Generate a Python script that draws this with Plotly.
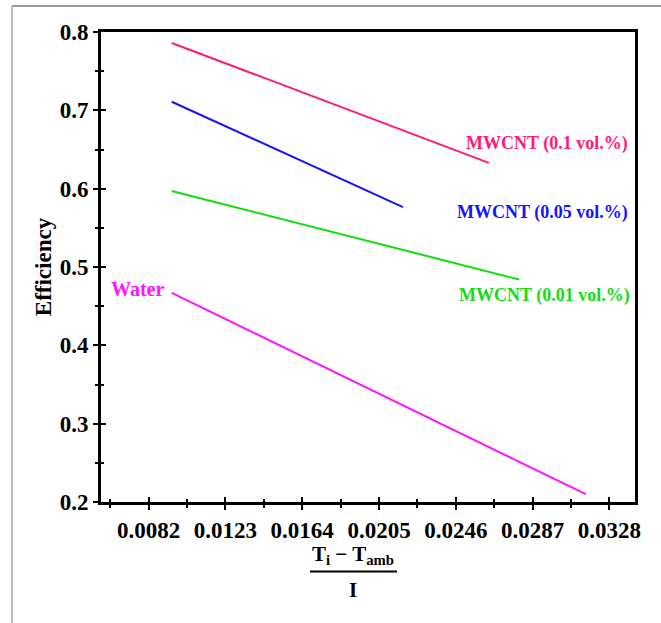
import plotly.graph_objects as go

# Efficiency vs reduced temperature parameter (Ti - Tamb) / I
x_ticks = [0.0082, 0.0123, 0.0164, 0.0205, 0.0246, 0.0287, 0.0328]
x_minor = [0.00615, 0.01025, 0.01435, 0.01845, 0.02255, 0.02665, 0.03075]
y_ticks = [0.2, 0.3, 0.4, 0.5, 0.6, 0.7, 0.8]
y_minor = [0.25, 0.35, 0.45, 0.55, 0.65, 0.75]

x_cnt_01 = [0.00943, 0.02637]
eff_cnt_01 = [0.786, 0.633]
x_cnt_005 = [0.00943, 0.02178]
eff_cnt_005 = [0.711, 0.5765]
x_cnt_001 = [0.00943, 0.02799]
eff_cnt_001 = [0.597, 0.484]
x_water = [0.00943, 0.03154]
eff_water = [0.467, 0.210]

series = [
    ("MWCNT (0.1 vol.%)", x_cnt_01, eff_cnt_01, "#FF1A7A"),
    ("MWCNT (0.05 vol.%)", x_cnt_005, eff_cnt_005, "#1414FF"),
    ("MWCNT (0.01 vol.%)", x_cnt_001, eff_cnt_001, "#12DD12"),
    ("Water", x_water, eff_water, "#FF14FF"),
]

FONT = "Liberation Serif"
x_range = [0.005652, 0.034173]
y_range = [0.2, 0.8]

fig = go.Figure()
for name, xs, ys, color in series:
    fig.add_trace(go.Scatter(x=xs, y=ys, mode="lines", name=name,
                             line=dict(color=color, width=2), showlegend=False))

# empty trace so the overlay axes (inner tick halves) get drawn
fig.add_trace(go.Scatter(x=[None], y=[None], xaxis="x2", yaxis="y2", mode="lines",
                         showlegend=False, hoverinfo="skip"))

# Series labels
labels = [
    ("MWCNT (0.1 vol.%)", 0.0339, 0.658, "#FF1A7A", 18),
    ("MWCNT (0.05 vol.%)", 0.0339, 0.570, "#1414FF", 18),
    ("MWCNT (0.01 vol.%)", 0.0340, 0.464, "#12DD12", 18),
    ("Water", 0.00912, 0.4722, "#FF14FF", 20),
]
for text, lx, ly, color, size in labels:
    fig.add_annotation(x=lx, y=ly, xref="x", yref="y", text=text, showarrow=False,
                       xanchor="right", yanchor="middle",
                       font=dict(family=FONT, size=size, color=color, weight="bold"))

# x-axis title as a fraction
fig.add_annotation(x=0.472, y=-0.112, xref="paper", yref="paper",
                   text="T<sub>i</sub> − T<sub>amb</sub>", showarrow=False,
                   xanchor="center", yanchor="middle", borderpad=0,
                   font=dict(family=FONT, size=21, color="black", weight="bold"))
fig.add_annotation(x=0.472, y=-0.187, xref="paper", yref="paper",
                   text="I", showarrow=False, xanchor="center", yanchor="middle",
                   borderpad=0,
                   font=dict(family=FONT, size=21, color="black", weight="bold"))
fig.add_shape(type="line", xref="paper", yref="paper", x0=0.3914, x1=0.5543,
              y0=-0.148, y1=-0.148, line=dict(color="black", width=2))

# thin grey frame at top and left of the figure
fig.add_shape(type="line", xref="paper", yref="paper", x0=-0.1667, x1=1.05,
              y0=1.0553, y1=1.0553, line=dict(color="#9a9a9a", width=2))
fig.add_shape(type="line", xref="paper", yref="paper", x0=-0.1667, x1=-0.1667,
              y0=1.0553, y1=-0.26, line=dict(color="#bdbdbd", width=2))

tickfont = dict(family=FONT, size=23, color="black", weight="bold")

fig.update_layout(
    width=661, height=623,
    margin=dict(l=101, r=26, t=32, b=121),
    plot_bgcolor="white", paper_bgcolor="white",
    xaxis=dict(range=x_range, showgrid=False, zeroline=False,
               showline=True, linecolor="black", linewidth=3, mirror=True,
               tickmode="array", tickvals=x_ticks,
               ticktext=[f"{v:.4f}" for v in x_ticks],
               ticks="outside", ticklen=5, tickwidth=2, tickcolor="black",
               minor=dict(tickmode="array", tickvals=x_minor, ticks="outside",
                          ticklen=3, tickwidth=2, tickcolor="black"),
               tickfont=tickfont),
    yaxis=dict(range=y_range, showgrid=False, zeroline=False,
               showline=True, linecolor="black", linewidth=3, mirror=True,
               tickmode="array", tickvals=y_ticks,
               ticktext=[f"{v:.1f}" for v in y_ticks],
               ticks="outside", ticklen=5, tickwidth=2, tickcolor="black",
               minor=dict(tickmode="array", tickvals=y_minor, ticks="outside",
                          ticklen=3, tickwidth=2, tickcolor="black"),
               tickfont=tickfont,
               title=dict(text="Efficiency", standoff=2,
                          font=dict(family=FONT, size=23, color="black", weight="bold"))),
    # inner halves of the crossing tick marks
    xaxis2=dict(range=x_range, overlaying="x", anchor="y2", side="bottom",
                showgrid=False, zeroline=False, showline=False,
                tickmode="array", tickvals=x_ticks, showticklabels=False,
                ticks="inside", ticklen=5, tickwidth=2, tickcolor="black",
                minor=dict(tickmode="array", tickvals=x_minor, ticks="inside",
                           ticklen=3, tickwidth=2, tickcolor="black")),
    yaxis2=dict(range=y_range, overlaying="y", anchor="x2", side="left",
                showgrid=False, zeroline=False, showline=False,
                tickmode="array", tickvals=y_ticks, showticklabels=False,
                ticks="inside", ticklen=5, tickwidth=2, tickcolor="black",
                minor=dict(tickmode="array", tickvals=y_minor, ticks="inside",
                           ticklen=3, tickwidth=2, tickcolor="black")),
)

fig.write_html("out.html")
